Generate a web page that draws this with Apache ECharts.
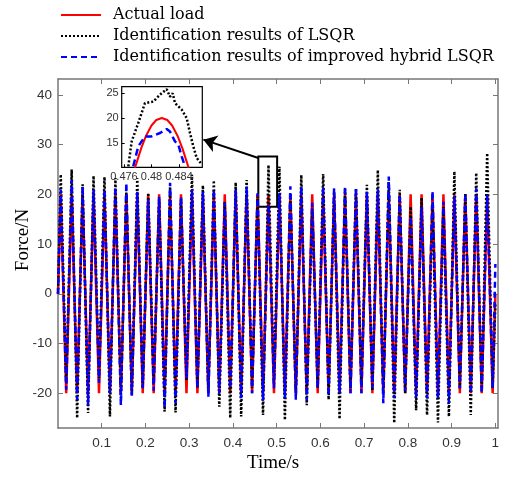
<!DOCTYPE html>
<html><head><meta charset="utf-8">
<script src="https://cdn.jsdelivr.net/npm/echarts@6/dist/echarts.min.js"></script>
<style>html,body{margin:0;padding:0;background:#fff}#c{width:505px;height:479px}</style>
</head><body><div id="c"></div>
<script>
// ---------- data ----------
const seriesNames = ['Actual load', 'Identification results of LSQR', 'Identification results of improved hybrid LSQR'];
const startTime = 0;
const endTime = 1.0;
const peakTimes = [0.00625,0.03125,0.05625,0.08125,0.10625,0.13125,0.15625,0.18125,0.20625,0.23125,
  0.25625,0.28125,0.30625,0.33125,0.35625,0.38125,0.40625,0.43125,0.45625,0.48125,
  0.50625,0.53125,0.55625,0.58125,0.60625,0.63125,0.65625,0.68125,0.70625,0.73125,
  0.75625,0.78125,0.80625,0.83125,0.85625,0.88125,0.90625,0.93125,0.95625,0.98125];
const troughTimes = [0.01875,0.04375,0.06875,0.09375,0.11875,0.14375,0.16875,0.19375,0.21875,0.24375,
  0.26875,0.29375,0.31875,0.34375,0.36875,0.39375,0.41875,0.44375,0.46875,0.49375,
  0.51875,0.54375,0.56875,0.59375,0.61875,0.64375,0.66875,0.69375,0.71875,0.74375,
  0.76875,0.79375,0.81875,0.84375,0.86875,0.89375,0.91875,0.94375,0.96875,0.99375];

const actualPeaks = [20,20,20,20,20,20,20,20,20,20,20,20,20,20,20,20,20,20,20,20,
  20,20,20,20,20,20,20,20,20,20,20,20,20,20,20,20,20,20,20,20];
const actualTroughs = [-20,-20,-20,-20,-20,-20,-20,-20,-20,-20,-20,-20,-20,-20,-20,-20,-20,-20,-20,-20,
  -20,-20,-20,-20,-20,-20,-20,-20,-20,-20,-20,-20,-20,-20,-20,-20,-20,-20,-20,-20];
const actualEnds = [0, 0];

const lsqrPeaks = [24,25,22,23.7,23.5,23.3,20.5,23.3,20.3,19,21.5,19,24,21.8,22.8,18.5,22.4,22.9,19.6,25.9,
  25.6,20,23.9,17,24.1,20.5,21,21.2,21.9,24.9,22.5,20.9,17.5,19.3,18,17.5,24.6,20.2,24.3,28.3];
const lsqrTroughs = [-18,-25,-24,-17,-24.7,-21,-20.5,-19,-18,-23.7,-23.9,-17.5,-19,-20,-22.7,-25,-24.7,-19,-24.4,-18,
  -25.4,-20,-22.4,-19,-21.3,-25.2,-19,-18,-19.5,-20,-26,-20,-23.4,-24.4,-25.9,-24.7,-19,-24.4,-19.5,-19];
const lsqrEnds = [0, -2];

const hybridPeaks = [20.9,22.9,21.6,20.9,21,21.5,22.3,20.5,19,19.5,22.3,19.5,21,20.5,21,18.3,20.9,21.6,20.2,18,
  20.2,21.6,21.6,18.3,21.6,21.2,21.6,21.2,20.5,21,23.6,20,15.5,17.5,20.6,18.5,19.6,20.2,21.2,19.9];
const hybridTroughs = [-19.3,-21.3,-22.4,-17.9,-20,-22.4,-20.5,-19,-19.5,-23,-22,-17,-19,-20.7,-20,-19,-21,-20,-21.5,-19,
  -21,-21.3,-21.5,-19,-20.5,-20,-20,-20,-19,-22,-21,-19.5,-21,-21,-21,-22,-19,-20,-20,-19];
const hybridEnds = [0, 6];

// inset (zoomed window)
const insetActualT = [0.4776,0.4779,0.4785,0.4792,0.4800,0.4807,0.4815,0.4823,0.4830,0.4838,0.4845,0.4851,0.4854];
const insetActualV = [10,11.3,13.9,16.4,18.5,19.6,20,19.6,18.5,16.4,13.9,11.3,10];
const insetLsqrT = [0.47663,0.47712,0.47808,0.47905,0.48026,0.48124,0.48221,0.48269,0.48308,0.48342,0.48439,0.48512,0.4856,0.48608,0.48657,0.4873];
const insetLsqrV = [10.3,15.3,19,23,23.3,24.7,25.8,24.3,25,23,21.7,20,17,14.3,12,10.7];
const insetHybridT = [0.47735,0.47808,0.47905,0.48,0.48124,0.48221,0.48269,0.48342,0.4839,0.48439,0.48487];
const insetHybridV = [10.3,14.3,16.3,16.3,17,17.8,17.3,15.3,14.7,12.3,10.3];

const xTicks = [0.1,0.2,0.3,0.4,0.5,0.6,0.7,0.8,0.9,1];
const yTicks = [-20,-10,0,10,20,30,40];
const insetXTicks = [0.476,0.48,0.484];
const insetYTicks = [15,20,25];

// zoom box & arrow (data coords of main axes)
const zoomBox = [[0.4580, 27.6], [0.5010, 17.5]];
const arrowFrom = [0.4580, 27.3];
const arrowTo = [0.3325, 31.0];

// ---------- build ----------
function build(peaks, troughs, ends) {
  const d = [[startTime, ends[0]]];
  for (let i = 0; i < peaks.length; i++) {
    d.push([peakTimes[i], peaks[i]]);
    d.push([troughTimes[i], troughs[i]]);
  }
  d.push([endTime, ends[1]]);
  return d;
}
function zip(t, v) { return t.map((x, i) => [x, v[i]]); }

const RED = '#ff0000', BLK = '#000000', BLU = '#0000ff';
const axisCol = '#777';
const tickFont = {fontFamily: 'Liberation Sans', fontSize: 13.5, color: '#333'};

function mainX(pos, showLabel) {
  return {gridIndex: 0, type: 'value', min: 0, max: 1.006, position: pos,
    axisLine: {show: true, onZero: false, lineStyle: {color: axisCol, width: 1.5}},
    axisTick: {show: true, inside: true, length: 5, customValues: xTicks, lineStyle: {color: axisCol}},
    axisLabel: Object.assign({show: showLabel, customValues: xTicks, margin: 8}, tickFont),
    splitLine: {show: false}};
}
function mainY(pos, showLabel) {
  return {gridIndex: 0, type: 'value', min: -27, max: 43.2, position: pos,
    axisLine: {show: true, onZero: false, lineStyle: {color: axisCol, width: 1.5}},
    axisTick: {show: true, inside: true, length: 5, customValues: yTicks, lineStyle: {color: axisCol}},
    axisLabel: Object.assign({show: showLabel, customValues: yTicks, margin: 6}, tickFont),
    splitLine: {show: false}};
}
const insetFont = {fontFamily: 'Liberation Sans', fontSize: 11, color: '#333'};

const option = {
  animation: false,
  backgroundColor: '#fff',
  legend: {
    show: true, orient: 'vertical', left: 55, top: 0, itemWidth: 40, itemHeight: 14, itemGap: 1,
    selectedMode: false,
    itemStyle: {opacity: 0},
    textStyle: {fontFamily: 'DejaVu Serif', fontSize: 16, lineHeight: 20, color: '#000', padding: [0, 0, 0, 7]},
    data: seriesNames
  },
  grid: [
    {left: 58, top: 79, right: 7, bottom: 51, show: false, outerBoundsMode: 'none', containLabel: false},
    {left: 121.7, top: 86.7, width: 80.6, height: 80.6, show: true, backgroundColor: '#fff',
      borderColor: '#000', borderWidth: 1.2, z: 10, outerBoundsMode: 'none', containLabel: false}
  ],
  xAxis: [
    mainX('bottom', true), mainX('top', false),
    {gridIndex: 1, type: 'value', min: 0.47567, max: 0.48739, z: 11,
      axisLine: {show: false}, axisTick: {show: true, inside: true, length: 3, customValues: insetXTicks, lineStyle: {color: '#000'}},
      axisLabel: Object.assign({customValues: insetXTicks, margin: 4}, insetFont), splitLine: {show: false}}
  ],
  yAxis: [
    mainY('left', true), mainY('right', false),
    {gridIndex: 1, type: 'value', min: 10.1, max: 26.3, z: 11,
      axisLine: {show: false}, axisTick: {show: true, inside: true, length: 3, customValues: insetYTicks, lineStyle: {color: '#000'}},
      axisLabel: Object.assign({customValues: insetYTicks, margin: 3}, insetFont), splitLine: {show: false}}
  ],
  graphic: [
    {type: 'text', x: 23, y: 240, rotation: Math.PI / 2, z: 20,
      style: {text: 'Force/N', fontFamily: 'Liberation Serif', fontSize: 19, fill: '#000', align: 'center', verticalAlign: 'middle'}},
    {type: 'text', x: 273, y: 463, z: 20,
      style: {text: 'Time/s', fontFamily: 'Liberation Serif', fontSize: 19, fill: '#000', align: 'center', verticalAlign: 'middle'}}
  ],
  series: [
    {name: seriesNames[0], type: 'line', xAxisIndex: 0, yAxisIndex: 0, showSymbol: false, symbol: 'none',
      lineStyle: {color: RED, width: 2.5}, itemStyle: {color: RED}, data: build(actualPeaks, actualTroughs, actualEnds), z: 2},
    {name: seriesNames[1], type: 'line', xAxisIndex: 0, yAxisIndex: 0, showSymbol: false, symbol: 'none',
      lineStyle: {color: BLK, width: 2.5, type: [2, 2]}, itemStyle: {color: BLK}, data: build(lsqrPeaks, lsqrTroughs, lsqrEnds), z: 3},
    {name: seriesNames[2], type: 'line', xAxisIndex: 0, yAxisIndex: 0, showSymbol: false, symbol: 'none',
      lineStyle: {color: BLU, width: 2.5, type: [6, 4]}, itemStyle: {color: BLU}, data: build(hybridPeaks, hybridTroughs, hybridEnds), z: 4,
      markArea: {silent: true, itemStyle: {color: 'rgba(0,0,0,0)', borderColor: '#000', borderWidth: 2},
        data: [[{coord: zoomBox[0]}, {coord: zoomBox[1]}]]},
      markLine: {silent: true, symbol: ['none', 'arrow'], symbolSize: 13, label: {show: false},
        lineStyle: {color: '#000', width: 2, type: 'solid'},
        data: [[{coord: arrowFrom}, {coord: arrowTo}]]}
    },
    {name: seriesNames[0], type: 'line', xAxisIndex: 2, yAxisIndex: 2, showSymbol: false, symbol: 'none', z: 12,
      lineStyle: {color: RED, width: 2}, data: zip(insetActualT, insetActualV)},
    {name: seriesNames[1], type: 'line', xAxisIndex: 2, yAxisIndex: 2, showSymbol: false, symbol: 'none', z: 13,
      lineStyle: {color: BLK, width: 2.5, type: [2, 2]}, data: zip(insetLsqrT, insetLsqrV)},
    {name: seriesNames[2], type: 'line', xAxisIndex: 2, yAxisIndex: 2, showSymbol: false, symbol: 'none', z: 14,
      lineStyle: {color: BLU, width: 2.5, type: [7, 4]}, data: zip(insetHybridT, insetHybridV)}
  ]
};
const chart = echarts.init(document.getElementById('c'), null, {renderer: 'canvas'});
chart.setOption(option);
</script>
</body></html>
